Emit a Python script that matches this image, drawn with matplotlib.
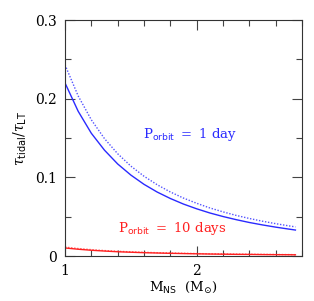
import numpy as np
import matplotlib
matplotlib.use('Agg')
import matplotlib.pyplot as plt
from matplotlib.ticker import MultipleLocator

# neutron star mass (M_sun)
m_ns = [1.0, 1.1, 1.2, 1.3, 1.4, 1.5, 1.6, 1.7, 1.8, 1.9, 2.0,
        2.1, 2.2, 2.3, 2.4, 2.5, 2.6, 2.7, 2.75]

# tau_tidal / tau_LT, P_orbit = 1 day
day1_solid = [0.220, 0.184, 0.156, 0.1345, 0.117, 0.1029, 0.0911, 0.0813, 0.0731,
              0.0660, 0.0600, 0.0547, 0.0502, 0.0462, 0.0426, 0.0395, 0.0367,
              0.0342, 0.0330]
day1_dotted = [0.243, 0.2035, 0.1731, 0.1492, 0.130, 0.1143, 0.1014, 0.0906, 0.0814,
               0.0736, 0.0670, 0.0611, 0.0561, 0.0516, 0.0477, 0.0442, 0.0411,
               0.0383, 0.0370]

# P_orbit = 10 days
day10_solid = [0.0102, 0.0086, 0.0073, 0.0063, 0.0054, 0.0048, 0.0042, 0.0038, 0.0034,
               0.0031, 0.0028, 0.0025, 0.0023, 0.0021, 0.0020, 0.0018, 0.0017,
               0.0016, 0.0015]
day10_dotted = [0.0113, 0.0095, 0.0081, 0.0069, 0.0060, 0.0053, 0.0047, 0.0042, 0.0038,
                0.0034, 0.0031, 0.0028, 0.0026, 0.0024, 0.0022, 0.0021, 0.0019,
                0.0018, 0.0017]

blue = '#2a2aff'
red = '#ff2020'

plt.rcParams['font.family'] = 'DejaVu Serif'
plt.rcParams['mathtext.fontset'] = 'dejavuserif'

fig = plt.figure(figsize=(3.14, 3.01), dpi=100)
ax = fig.add_axes([65 / 314, 1 - 256 / 301, 237 / 314, 236 / 301])

ax.plot(m_ns, day1_solid, color=blue, lw=1.0)
ax.plot(m_ns, day1_dotted, color=blue, lw=1.0, ls=(0, (1, 1.2)), alpha=0.8)
ax.plot(m_ns, day10_solid, color=red, lw=1.0)
ax.plot(m_ns, day10_dotted, color=red, lw=1.0, ls=(0, (1, 1.2)), alpha=0.7)

ax.set_xlim(1, 2.8)
ax.set_ylim(0, 0.3)
ax.xaxis.set_minor_locator(MultipleLocator(0.2))
ax.yaxis.set_minor_locator(MultipleLocator(0.05))
ax.set_yticks([0, 0.1, 0.2, 0.3])
ax.set_yticklabels(['0', '0.1', '0.2', '0.3'])
ax.set_xticks([1, 2])
ax.set_xticklabels(['1', '2'])
ax.tick_params(which='both', direction='in', top=True, right=True,
               labelsize=10, width=0.8, color='#444444')
ax.tick_params(which='major', length=7, pad=6)
ax.tick_params(which='minor', length=4)
for s in ax.spines.values():
    s.set_linewidth(0.8)
    s.set_color('#333333')

ax.set_xlabel(r'$\mathrm{M}_{\mathsf{NS}}\ \ (\mathrm{M}_{\odot})$', fontsize=9.5, labelpad=1)
ax.set_ylabel(r'$\tau_{\mathsf{tidal}}/\tau_{\mathsf{LT}}$', fontsize=10, labelpad=4)

ax.text(1.59, 0.155, r'$\mathrm{P}_{\mathsf{orbit}}\ =\ 1\ \mathrm{day}$',
        color=blue, fontsize=9.5, va='center')
ax.text(1.4, 0.035, r'$\mathrm{P}_{\mathsf{orbit}}\ =\ 10\ \mathrm{days}$',
        color=red, fontsize=9.5, va='center')

fig.savefig('out.png', dpi=100)
